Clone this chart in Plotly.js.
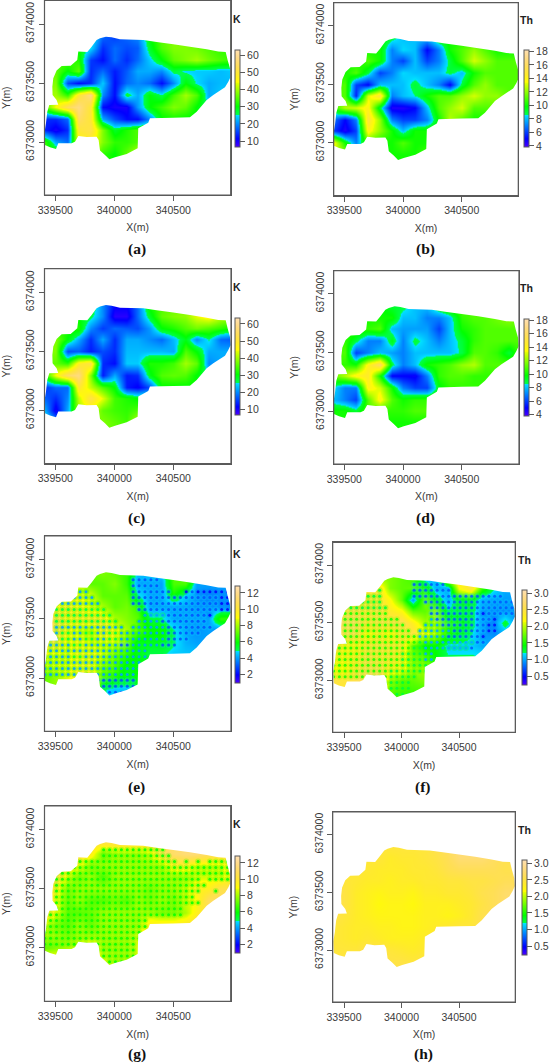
<!DOCTYPE html>
<html><head><meta charset="utf-8">
<script src="https://cdn.plot.ly/plotly-3.0.1.min.js"></script>
<style>html,body{margin:0;padding:0;background:#fff}#c{width:553px;height:1063px}</style>
</head><body><div id="c"></div>
<script>
var gridX=[339400,339500,339600,339700,339800,339900,340000,340100,340200,340300,340400,340500,340600,340700,340800,340900,341000];
var gridY=[6373900,6373800,6373700,6373600,6373500,6373400,6373300,6373200,6373100,6373000,6372900,6372800];
var dotX=[339410,339460,339510,339560,339610,339660,339710,339760,339810,339860,339910,339960,340010,340060,340110,340160,340210,340260,340310,340360,340410,340460,340510,340560,340610,340660,340710,340760,340810,340860,340910,340960];
var dotY=[6373880,6373830,6373780,6373730,6373680,6373630,6373580,6373530,6373480,6373430,6373380,6373330,6373280,6373230,6373180,6373130,6373080,6373030,6372980,6372930,6372880];
var outlineX=[339850,339879,339929,339977,340048,340246,340359,340500,340641,340783,340881,340944,340960,340980,340986,340966,340938,340839,340783,340698,340641,340500,340302,340288,340203,340198,340105,340006,339958,339921,339879,339867,339850,339766,339695,339667,339638,339525,339506,339455,339412,339407,339421,339432,339449,339525,339511,339477,339475,339483,339511,339554,339630,339686,339695,339771,339808];
var outlineY=[6373864,6373879,6373893,6373887,6373870,6373864,6373847,6373828,6373808,6373785,6373766,6373763,6373695,6373624,6373554,6373511,6373463,6373398,6373356,6373257,6373209,6373206,6373201,6373164,6373116,6372946,6372898,6372870,6372853,6372890,6372927,6373017,6373045,6373042,6373051,6373003,6372989,6372989,6372941,6372955,6372975,6373073,6373158,6373257,6373314,6373316,6373356,6373398,6373469,6373540,6373605,6373644,6373647,6373695,6373766,6373763,6373808];

var zA=[
[30,30,30,30,28,18,15,18,20,30,36,38,38,37,35,33,33],
[30,30,30,30,25,14,18,16,17,28,35,38,38,37,35,33,33],
[35,35,35,32,15,12,18,14,18,24,30,36,38,40,37,35,33],
[36,36,30,36,14,18,13,17,22,22,20,27,25,24,24,23,24],
[38,38,16,12,14,24,12,18,20,18,12,20,30,25,22,23,23],
[40,40,33,50,58,20,12,28,22,30,26,34,40,35,22,24,24],
[33,45,54,58,50,12,10,10,21,30,34,38,36,30,25,25,25],
[14,14,18,55,50,22,16,12,12,20,30,31,30,30,30,30,30],
[14,10,14,50,52,38,28,32,35,35,35,35,35,35,35,35,35],
[35,22,18,45,48,38,33,33,35,35,35,35,35,35,35,35,35],
[33,33,33,40,40,33,30,36,42,40,35,35,35,35,35,35,35],
[33,33,33,40,40,33,30,36,42,40,35,35,35,35,35,35,35]];
var zB=[
[10,10,10,10,10,9,8,8,8,10,10,10,10,10,10,10,10],
[10,10,10,10,10,7,8.4,8,5,7,10,11,12,11,10,10,10],
[10,10,10,11,10,7,6,8,6,7,9,11,13,12,11,11,11],
[10,10,11,9,6,7,8.4,8,8,8,9,8,10,11,11,11,11],
[11,11,6,5,8,8,8,9,8,7,5,9,11,12,11,11,11],
[11,11,5.5,13,15,7,8,8.6,10,11,11,12,13,12,12,11,11],
[10,12.5,13,14,9,4.5,4.5,5,8,11,12,13,11,11,11,11,11],
[7,5,7,15,12,7,6,6,7,10,12.5,11,10,10,10,10,10],
[6,4.5,6,14,12,10,8,10,10,10,10,10,10,10,10,10,10],
[14,10,7,11,10,10,11,10,10,10,10,10,10,10,10,10,10],
[13,12,10,10,10,10,10,10,11,10,10,10,10,10,10,10,10],
[13,12,10,10,10,10,10,10,11,10,10,10,10,10,10,10,10]];
var zC=[
[30,30,30,30,30,20,12,12,18,32,35,36,38,38,40,38,36],
[30,30,30,30,27,20,9,9,18,28,36,38,39,44,47,42,40],
[32,32,32,32,20,15,18,17,16,21,30,32,35,37,35,33,30],
[38,38,30,22,14,22,14,22,22,20,18,23,29,20,26,18,17],
[38,38,16,17,13,16,14,23,23,23,23,22,35,30,22,22,22],
[36,36,33,48,52,14,12,24,24,32,32,34,40,36,20,22,22],
[30,45,55,58,38,13,22,13,14,29,35,36,35,30,25,25,25],
[14,18,18,50,42,35,30,13,11,16,30,30,30,30,30,30,30],
[18,14,20,42,52,44,34,32,30,30,30,30,30,30,30,30,30],
[24,10,22,40,44,36,34,33,35,35,35,35,35,35,35,35,35],
[30,22,25,35,35,38,36,34,42,40,35,35,35,35,35,35,35],
[30,22,25,35,35,38,36,34,42,40,35,35,35,35,35,35,35]];
var zD=[
[10,10,10,10,10,9,9,8,8,10,11,11,11,11,11,11,11],
[10,10,10,10,10,10,8,8,7,7,8,10.5,11,11,11.5,12,11],
[10.5,10.5,10.5,10.5,11,8,7.5,7.5,7.5,6,8,10,10.5,11,11,11,11],
[10.5,10.5,9,7,7,9.5,7,9,8,7,8,9,10.5,11,11,11,11],
[11,11,6,7,8,7.5,7,8,8,8,8,8.8,11,11,10.5,9,11],
[10.5,10.5,10,14,16,9,7,8,10,10.5,11,12,12.5,11,11,11,11],
[11,12.5,14,14.5,10,5,5,4.8,7,10.5,11,11,10.5,10.5,10.5,10.5,10.5],
[8.5,7,7,14,13,10,7,6,6,9.5,10.5,10.5,10.5,10.5,10.5,10.5,10.5],
[8,7,6,11,14,11,10,10.5,10.5,10.5,10.5,10.5,10.5,10.5,10.5,10.5,10.5],
[10,10,9,11,10.5,10.5,10.5,11,11,11,11,11,11,11,11,11,11],
[10,10,10,10,10,10,10,10,10,10,10,10,10,10,10,10,10],
[10,10,10,10,10,10,10,10,10,10,10,10,10,10,10,10,10]];
var zE=[
[8,8,8,8,7,7.5,7,6.5,4.5,4.5,4.5,7,7,7,4,4,4],
[8,8,8,8,7,7,7.5,6.5,4,4,4,6.8,6.8,4,4,4,4],
[9,9,9,9,8.5,7,7,7,5,4,4,6,4.5,3.8,3.5,3.8,3.8],
[9.2,9.2,9.7,9.2,8.7,8,7,7.3,6.5,4,4,4,4,3.8,3.8,3.8,3.8],
[10.5,10.5,9.2,9.7,9.7,9.7,8,7.5,7,5,5,4,4,4,4,6.5,6.5],
[10.5,10.5,9.2,8.7,8.2,9.7,9.2,8,7,6,6,5,4,3.8,4,3.5,4],
[10,10,8.7,9.2,8.7,8.7,8.7,7.5,5.5,5.5,5.5,5,4.2,4,4,4,4],
[8.7,8.7,8.7,9.2,9.2,8.7,7.5,6.5,5.5,5,5,4.5,4.5,4.5,4.5,4.5,4.5],
[8.2,8.7,8.7,9.2,9.2,7.7,7,5.5,6,6,6,6,6,6,6,6,6],
[7,7.7,8.7,9.7,9.7,7,6.3,5.5,6,6,6,6,6,6,6,6,6],
[7,7.7,8.7,9.7,9.7,5,4.5,4.5,5,5,5,5,5,5,5,5,5],
[7,7.7,8.7,9.7,9.7,5,4.5,4.5,5,5,5,5,5,5,5,5,5]];
var dotsE=[
"",
"...............33333",
"...............33333",
"......44.......3333333..23222222",
"...444444......33333333333333322",
"..44444444.....33333333333333322",
"..555555555.....3333333333333322",
"..5555555555.....444433333332",
"..55555555555...444433333333",
"..444444444444.44444433333333",
".44554455445544444444333333",
".445544554455444444443333",
".4444554444443344444333",
"444444444444444444",
"444445544444444444",
"44444444444444444",
"44444444444444444",
"4444444444444444",
".........3333333",
"..........333333",
"...........333"];
var zF=[
[1.8,1.8,1.8,1.8,1.8,1.8,1.7,1.6,1,1,2.2,2.4,1.8,1.6,1,1,1],
[2.4,2.4,2.4,2.4,2.4,1.8,1.7,1.7,1.5,1,1,2.2,2.5,1.6,1.2,1,1],
[2.4,2.4,2.45,2.45,2.45,2.2,1.7,0.95,1.8,1.4,1,1.4,1.4,1,0.95,0.95,0.95],
[2.5,2.5,2.55,2.45,2.55,2.35,2.2,1.7,1.7,1.9,1.2,1.3,1.3,0.95,0.9,0.9,0.9],
[2.7,2.7,2.7,2.45,2.55,2.55,2.6,2.3,1.9,2,1.6,1.5,1.3,0.95,0.9,1.3,0.9],
[2.6,2.6,2.6,2.15,2.35,2.15,2.45,2.5,2.2,2,1.5,1.4,1.2,0.95,0.9,1,0.9],
[2.6,2.25,2.25,2.45,2.55,2.45,2.4,1.7,1.4,1.4,1.1,1.1,1.1,1,1,1,1],
[2.3,2.25,2.35,2.55,2.45,2.45,2.3,1.8,1.7,1.4,1.2,1.2,1.2,1.2,1.2,1.2,1.2],
[2.15,2.15,2.45,2.6,2.6,2.3,2.25,1.9,1.9,1.7,1.7,1.7,1.7,1.7,1.7,1.7,1.7],
[2.5,2.45,2.55,2.7,2.7,1.9,1.7,1.7,1.8,1.8,1.8,1.8,1.8,1.8,1.8,1.8,1.8],
[2.4,2.4,2.4,2.4,2.4,1.7,1.6,1.6,1.6,1.6,1.6,1.6,1.6,1.6,1.6,1.6,1.6],
[2.4,2.4,2.4,2.4,2.4,1.7,1.6,1.6,1.6,1.6,1.6,1.6,1.6,1.6,1.6,1.6,1.6]];
var dotsF=[
"",
"..............333333",
"........5.....3333333",
"......555.....3333333333333333",
"...555555.......3333333333333333",
"..55555555.......333333333333333",
"..66666666.......333333333233333",
"..6666666666.....433333333332",
"..66666666666...4443333333322",
"..666666666666.44444433333322",
".66666666666666444443333332",
".66666666666666544444444433",
"6666666666666655444444443",
"666666666666555544",
"666666666666555544",
"66666666666655555",
"66666666665555555",
"666666666655555",
".........55555",
"..........5555",
"...........555"];
var zG=[
[10.5,10.5,10.5,10.5,10.5,10.5,10.5,10.5,10.5,10.5,10.5,11,11,11,11,10.5,10.5],
[10.5,10.5,10.5,10.5,9.5,7.2,8,8,8,8.5,10.5,11.2,11.5,11.5,11,10.5,10.5],
[10.5,10.5,10,9,7.5,8,8,8,8,8,8,9.5,9.5,8.5,8.5,8.5,10],
[10.5,10.5,8.5,7.5,8,6.8,8,8,8,8,8,8,8,8.5,8.5,8.5,9.5],
[10.5,9.5,7.5,8,8,8,8,8,8,7.5,8,8,8.5,9.5,9.5,10.5,10.5],
[10.5,9,7.2,8,7,7,7.5,7,8,7.5,8,7.5,8.5,9,11,11,11],
[10.5,9,7,7,7.3,8,8,8,8,8,7.5,7.5,8,9.5,10.5,10.5,10.5],
[8.5,7.5,7,8,7.2,8,8,8,8,9.5,9.5,9.5,10,10.5,10.5,10.5,10.5],
[8,8,7.5,8,8,8,8,8,8.5,10,10,10,10,10,10,10,10],
[7,7.5,8,8.5,9.5,8,8,8,8.5,10,10,10,10,10,10,10,10],
[9.5,9.5,10,10,10,8.5,8,8,8.5,10,10,10,10,10,10,10,10],
[10.5,10.5,10.5,10.5,10.5,8.5,9,9,9.5,10.5,10.5,10.5,10.5,10.5,10.5,10.5,10.5]];
var dotsG=[
"",
"..........66666666666",
"..........666666666666",
"......66666666666666666.6.6.6666",
"...66666666666666666666666666666",
"..666666666666666666666666666666",
"..6666666666666666666666666.6666",
"..66666666666666666666666666",
"..6666666666666666666666666..6",
"..666666666666666666666666",
".66666666666666666666666666",
".66666666666666666666666",
"666666666666666666666666",
"666666666666666666",
"666666666666666666",
"66666666666666666",
"66666666666666666",
"6666666666666666",
".........6666666",
"..........666666",
"...........666"];
var zH=[
[2.45,2.45,2.45,2.45,2.45,2.45,2.45,2.45,2.45,2.55,2.65,2.75,2.75,2.75,2.65,2.55,2.55],
[2.45,2.45,2.45,2.45,2.45,2.35,2.4,2.4,2.45,2.5,2.6,2.75,2.75,2.75,2.65,2.55,2.55],
[2.45,2.45,2.45,2.4,2.35,2.35,2.35,2.4,2.4,2.45,2.55,2.6,2.6,2.6,2.6,2.55,2.55],
[2.5,2.45,2.4,2.35,2.35,2.3,2.35,2.35,2.4,2.4,2.45,2.45,2.5,2.5,2.55,2.6,2.6],
[2.6,2.5,2.35,2.3,2.25,2.3,2.3,2.25,2.35,2.35,2.4,2.4,2.45,2.55,2.6,2.7,2.7],
[2.6,2.5,2.35,2.3,2.2,2.25,2.25,2.2,2.3,2.3,2.3,2.35,2.4,2.5,2.6,2.7,2.7],
[2.55,2.45,2.35,2.3,2.25,2.25,2.25,2.25,2.3,2.3,2.25,2.3,2.4,2.55,2.6,2.6,2.6],
[2.45,2.4,2.35,2.35,2.3,2.3,2.25,2.25,2.3,2.35,2.4,2.45,2.45,2.55,2.55,2.55,2.55],
[2.45,2.4,2.35,2.4,2.35,2.3,2.3,2.3,2.35,2.45,2.45,2.45,2.45,2.45,2.45,2.45,2.45],
[2.45,2.45,2.45,2.55,2.55,2.45,2.4,2.35,2.4,2.45,2.45,2.45,2.45,2.45,2.45,2.45,2.45],
[2.5,2.5,2.5,2.55,2.55,2.5,2.5,2.45,2.5,2.5,2.5,2.5,2.5,2.5,2.5,2.5,2.5],
[2.5,2.5,2.5,2.55,2.55,2.55,2.55,2.5,2.5,2.5,2.5,2.5,2.5,2.5,2.5,2.5,2.5]];
var ticksK=[10,20,30,40,50,60], ticksTh=[4,6,8,10,12,14,16,18];
var ticksVarK=[2,4,6,8,10,12], ticksVarTh=[0.5,1,1.5,2,2.5,3];
var labelsVarTh=["0.5","1.0","1.5","2.0","2.5","3.0"];

var topo=[[0,"#4C00FF"],[0.0833,"#0000FF"],[0.333,"#00E5FF"],[0.334,"#00FF4D"],[0.4167,"#00FF00"],[0.66,"#E6FF00"],[0.667,"#FFFF00"],[0.75,"#FFEA2D"],[0.833,"#FFDE59"],[0.917,"#FFDB86"],[1,"#FFE0B3"]];
var W=553,H=1063, fnt="Liberation Sans", txt="#3a3a3a", ln="#5a5a5a";

var panels=[
{z:zA,name:"K",letter:"(a)",zr:[6.7,63.3],tv:ticksK,f:[44.5,230.7,0.5,195],xt:[55.3,173.3],yt:[24,142],cb:[234.7,49.3,146.7],nm:[237,19],lt:[136.7,249.3]},
{z:zB,name:"Th",letter:"(b)",zr:[3.8,18.15],tv:ticksTh,f:[333.7,518.3,2.7,195.7],xt:[344.3,461.7],yt:[25.7,142.7],cb:[524.3,50.7,147.3],nm:[526.5,20],lt:[425,249.3]},
{z:zC,name:"K",letter:"(c)",zr:[6.7,63.3],tv:ticksK,f:[44.5,231,268.7,463.7],xt:[55.3,173.3],yt:[292.3,410.3],cb:[234.7,318,415.3],nm:[237,287.3],lt:[136.7,518]},
{z:zD,name:"Th",letter:"(d)",zr:[3.8,18.15],tv:ticksTh,f:[333.7,519,270.7,464],xt:[344.3,461.7],yt:[293.7,411],cb:[524.3,319.3,416],nm:[526.5,288.3],lt:[425,518]},
{z:zE,dots:dotsE,ds:1,hl:1.5,name:"K",letter:"(e)",zr:[0.9,12.8],tv:ticksVarK,f:[44.5,231,536,731.3],xt:[55.3,173.3],yt:[559.7,678],cb:[234.7,586,683.3],nm:[237,554.3],lt:[136.7,786.7]},
{z:zF,dots:dotsF,ds:0.25,hl:0.35,name:"Th",letter:"(f)",zr:[0.22,3.09],tv:ticksVarTh,tl:labelsVarTh,f:[332.7,515.3,542.3,732.3],xt:[344,459],yt:[565,680.3],cb:[522,590.3,685.3],nm:[524,560],lt:[423,787]},
{z:zG,dots:dotsG,ds:1,hl:0.8,name:"K",letter:"(g)",zr:[0.9,12.8],tv:ticksVarK,f:[44.5,230.7,806,1001.3],xt:[55.3,173.3],yt:[829.7,947.7],cb:[234.7,856,953.3],nm:[237,824.3],lt:[136.7,1054]},
{z:zH,name:"Th",letter:"(h)",zr:[0.22,3.09],tv:ticksVarTh,tl:labelsVarTh,f:[332.7,515.3,812,1002],xt:[344,459],yt:[834.7,950],cb:[522,860,955.3],nm:[524,829.7],lt:[423,1054]}
];

var traces=[],layout={width:W,height:H,margin:{l:0,r:0,t:0,b:0},paper_bgcolor:"#fff",plot_bgcolor:"#fff",showlegend:false,shapes:[],annotations:[],font:{family:fnt,color:txt,size:10.5}};

var outPath="";
outlineX.forEach(function(x,i){outPath+=(i?"L":"M")+x+","+outlineY[i]+" ";});
outPath+="Z";

panels.forEach(function(p,i){
  var n=i?String(i+1):"", xa="x"+n, ya="y"+n;
  var f=p.f, sx=500*2/(p.xt[1]-p.xt[0]), sy=1000/(p.yt[1]-p.yt[0]);
  var x0=339500+(f[0]-p.xt[0])*sx, x1=339500+(f[1]-p.xt[0])*sx;
  var y1=6374000-(f[2]-p.yt[0])*sy, y0=6374000-(f[3]-p.yt[0])*sy;
  layout["xaxis"+n]={domain:[f[0]/W,f[1]/W],range:[x0,x1],anchor:ya,tickvals:[339500,340000,340500],ticktext:["339500","340000","340500"],ticks:"outside",ticklen:5,tickcolor:ln,linecolor:ln,linewidth:1,mirror:true,showgrid:false,zeroline:false,tickfont:{family:fnt,size:10.5,color:txt},title:{text:"X(m)",font:{family:fnt,size:10.5,color:txt},standoff:9}};
  layout["yaxis"+n]={domain:[1-f[3]/H,1-f[2]/H],range:[y0,y1],anchor:xa,tickvals:[6373000,6373500,6374000],ticktext:["6373000","6373500","6374000"],tickangle:-90,ticks:"outside",ticklen:5,tickcolor:ln,linecolor:ln,linewidth:1,mirror:true,showgrid:false,zeroline:false,tickfont:{family:fnt,size:10.5,color:txt},title:{text:"Y(m)",font:{family:fnt,size:10.5,color:txt},standoff:12}};
  traces.push({type:"heatmap",x:gridX,y:gridY,z:p.z,xaxis:xa,yaxis:ya,zmin:p.zr[0],zmax:p.zr[1],colorscale:topo,zsmooth:"best",hoverinfo:"skip",
    colorbar:{x:p.cb[0]/W,xanchor:"left",y:1-p.cb[2]/H,yanchor:"bottom",len:p.cb[2]-p.cb[1],lenmode:"pixels",thickness:5,thicknessmode:"pixels",xpad:0,ypad:0,outlinecolor:ln,outlinewidth:1,ticks:"outside",ticklen:5,tickcolor:ln,tickvals:p.tv,ticktext:p.tl||p.tv.map(String),tickfont:{family:fnt,size:10.5,color:txt}}});
  if(p.dots){
    var dx=[],dy=[],dc=[],dh=[];
    p.dots.forEach(function(row,r){for(var k=0;k<row.length;k++){var ch=row.charAt(k);if(ch!=="."){dx.push(dotX[k]);dy.push(dotY[r]);dc.push(+ch*p.ds);dh.push(+ch*p.ds+p.hl);}}});
    traces.push({type:"scatter",mode:"markers",x:dx,y:dy,xaxis:xa,yaxis:ya,hoverinfo:"skip",marker:{size:6,opacity:0.3,color:dh,cmin:p.zr[0],cmax:p.zr[1],colorscale:topo,showscale:false,line:{width:0}}});
    traces.push({type:"scatter",mode:"markers",x:dx,y:dy,xaxis:xa,yaxis:ya,hoverinfo:"skip",marker:{size:3,opacity:0.9,color:dc,cmin:p.zr[0],cmax:p.zr[1],colorscale:topo,showscale:false,line:{width:0}}});
  }
  var rect="M"+x0+","+y0+" L"+x1+","+y0+" L"+x1+","+y1+" L"+x0+","+y1+" Z ";
  layout.shapes.push({type:"path",xref:xa,yref:ya,path:rect+outPath,fillrule:"evenodd",fillcolor:"#fff",line:{width:0},layer:"above"});
  layout.shapes.push({type:"rect",xref:"paper",yref:"paper",x0:f[0]/W,x1:f[1]/W,y0:1-f[3]/H,y1:1-f[2]/H,line:{color:ln,width:1.2},fillcolor:"rgba(0,0,0,0)",layer:"above"});
  layout.annotations.push({xref:"paper",yref:"paper",x:p.nm[0]/W,y:1-p.nm[1]/H,text:"<b>"+p.name+"</b>",showarrow:false,xanchor:"center",yanchor:"middle",font:{family:fnt,size:10.5,color:"#222"}});
  layout.annotations.push({xref:"paper",yref:"paper",x:p.lt[0]/W,y:1-p.lt[1]/H,text:"<b>"+p.letter+"</b>",showarrow:false,xanchor:"center",yanchor:"middle",font:{family:"Liberation Serif",size:15.5,color:"#111"}});
});
Plotly.newPlot("c",traces,layout,{displayModeBar:false,staticPlot:true});
</script></body></html>
